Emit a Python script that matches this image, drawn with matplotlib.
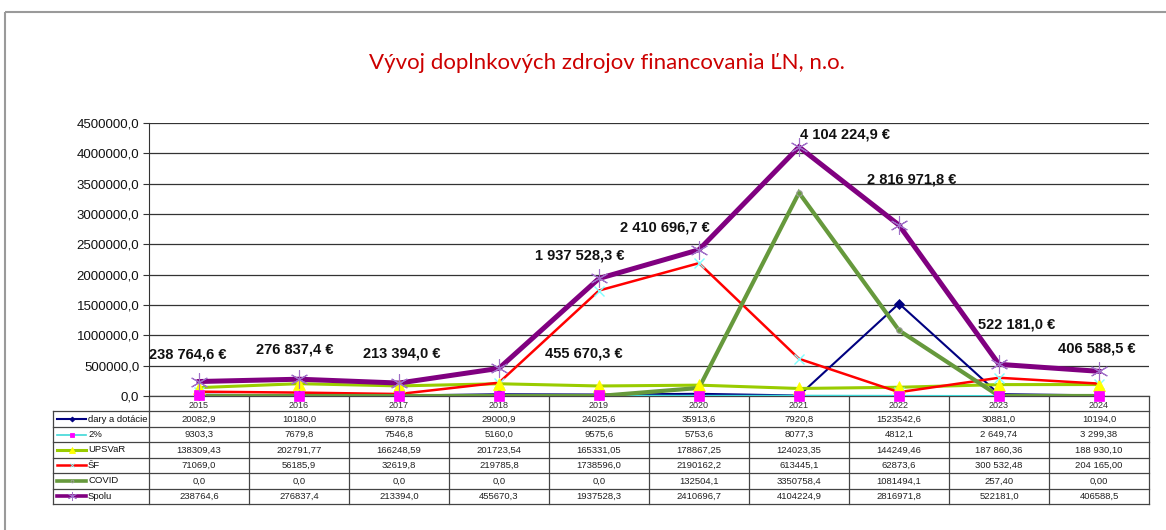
import matplotlib
matplotlib.use("Agg")
import matplotlib.pyplot as plt
from matplotlib.patches import Rectangle

plt.rcParams["font.family"] = ["Liberation Sans", "DejaVu Sans"]

years = ["2015", "2016", "2017", "2018", "2019", "2020", "2021", "2022", "2023", "2024"]

# values as printed in the data table
dary = ["20082,9", "10180,0", "6978,8", "29000,9", "24025,6", "35913,6", "7920,8", "1523542,6", "30881,0", "10194,0"]
dve_percenta = ["9303,3", "7679,8", "7546,8", "5160,0", "9575,6", "5753,6", "8077,3", "4812,1", "2 649,74", "3 299,38"]
upsvar = ["138309,43", "202791,77", "166248,59", "201723,54", "165331,05", "178867,25", "124023,35", "144249,46", "187 860,36", "188 930,10"]
sf = ["71069,0", "56185,9", "32619,8", "219785,8", "1738596,0", "2190162,2", "613445,1", "62873,6", "300 532,48", "204 165,00"]
covid = ["0,0", "0,0", "0,0", "0,0", "0,0", "132504,1", "3350758,4", "1081494,1", "257,40", "0,00"]
spolu = ["238764,6", "276837,4", "213394,0", "455670,3", "1937528,3", "2410696,7", "4104224,9", "2816971,8", "522181,0", "406588,5"]

series_names = ["dary a dotácie", "2%", "UPSVaR", "ŠF", "COVID", "Spolu"]
series_text = [dary, dve_percenta, upsvar, sf, covid, spolu]

# pixel offsets of the Spolu value labels from their points
label_offsets = [(-11, 27), (-4, 30), (3, 30), (85, 15), (-19, 23),
                 (-34, 22), (46, 13), (13, 46), (18, 40), (-2, 23)]

styles = [
    dict(color="#000080", lw=1.5, marker="D", ms=5, mfc="#000080", mec="#000080"),
    dict(color="#40D8D8", lw=1.2, marker="s", ms=7, mfc="#FF00FF", mec="#FF00FF"),
    dict(color="#99CC00", lw=2.2, marker="^", ms=8, mfc="#FFFF00", mec="#FFFF00"),
    dict(color="#FF0000", lw=1.8, marker="x", ms=7, mfc="#80FFFF", mec="#80FFFF", mew=1),
    dict(color="#66993C", lw=3.0, marker="o", ms=4, mfc="#66993C", mec="#A0A0A0", mew=0.8),
    dict(color="#800080", lw=3.6, marker=(6, 2, 0), ms=13, mfc="#A070C8", mec="#A070C8", mew=0.8),
]
marker_z = [11, 13, 12, 11, 11, 14]


def to_num(s):
    return float(s.replace(" ", "").replace(",", "."))


def fmt_eur(v):
    return f"{v:,.1f}".replace(",", " ").replace(".", ",") + " €"


W, H = 1166, 530
fig = plt.figure(figsize=(W / 100, H / 100), dpi=100)
fig.patches.append(Rectangle((5 / W, 1 - 12 / H), 1.0, -1.0, transform=fig.transFigure,
                             fill=False, edgecolor="#9a9a9a", lw=1.5))

x0, x1 = 149, 1149
y_top, y_zero = 123, 396
ax = fig.add_axes([x0 / W, 1 - y_zero / H, (x1 - x0) / W, (y_zero - y_top) / H])
xs = list(range(len(years)))

for k in range(len(series_text)):
    vals = [to_num(s) for s in series_text[k]]
    st = styles[k]
    ax.plot(xs, vals, color=st["color"], lw=st["lw"], zorder=3 + k, solid_joinstyle="miter")
for k in range(len(series_text)):
    vals = [to_num(s) for s in series_text[k]]
    st = styles[k]
    ax.plot(xs, vals, ls="none", marker=st["marker"], ms=st["ms"], mfc=st["mfc"],
            mec=st["mec"], mew=st.get("mew", 0.5), zorder=marker_z[k], clip_on=False)

spolu_vals = [to_num(s) for s in spolu]
for i, v in enumerate(spolu_vals):
    ax.annotate(fmt_eur(v), (i, v), xytext=label_offsets[i], textcoords="offset pixels",
                ha="center", va="center", fontsize=10.5, fontweight="bold", color="#111111",
                zorder=20)

ax.set_xlim(-0.5, len(years) - 0.5)
ax.set_ylim(0, 4500000)
yt = [i * 500000 for i in range(10)]
ax.set_yticks(yt)
ax.set_yticklabels([f"{v:.1f}".replace(".", ",") for v in yt], fontsize=9.5, color="#111111")
ax.set_xticks([])
ax.grid(axis="y", color="#333333", lw=0.9)
ax.set_axisbelow(True)
for s in ["top", "right", "bottom"]:
    ax.spines[s].set_visible(False)
ax.spines["left"].set_color("#333333")
ax.tick_params(axis="y", length=4, color="#333333", pad=3)
ax.patch.set_alpha(0)

fig.text(607 / W, 1 - 63 / H, "Vývoj doplnkových zdrojov financovania ĽN, n.o.",
         ha="center", va="center", fontsize=16, color="#CC0000", family="Lato")

# data table under the chart
t_left, t_bottom = 53, 504
tax = fig.add_axes([t_left / W, 1 - t_bottom / H, (x1 - t_left) / W, (t_bottom - y_zero) / H])
tax.set_zorder(-1)
leg_w = (x0 - t_left) / ((x1 - x0) / len(years))
tax.set_xlim(-0.5 - leg_w, len(years) - 0.5)
tax.set_ylim(7, 0)
tax.axis("off")
lc = "#444444"
for i in range(len(years) + 1):
    tax.plot([i - 0.5, i - 0.5], [0, 7], color=lc, lw=0.9, clip_on=False)
tax.plot([-0.5 - leg_w] * 2, [1, 7], color=lc, lw=0.9, clip_on=False)
tax.plot([-0.5, len(years) - 0.5], [0, 0], color=lc, lw=0.9, clip_on=False)
for r in range(1, 8):
    tax.plot([-0.5 - leg_w, len(years) - 0.5], [r, r], color=lc, lw=0.9, clip_on=False)

for i, yr in enumerate(years):
    tax.text(i, 0.6, yr, ha="center", va="center", fontsize=6.5, color="#333333")

for k, name in enumerate(series_names):
    r = k + 1.5
    st = styles[k]
    kx0 = -0.5 - leg_w + 0.04
    kx1 = kx0 + 0.29
    tax.plot([kx0, kx1], [r, r], color=st["color"], lw=min(st["lw"], 2.6), clip_on=False)
    tax.plot([(kx0 + kx1) / 2], [r], ls="none", marker=st["marker"], ms=st["ms"] * 0.5,
             mfc=st["mfc"], mec=st["mec"], mew=0.6, clip_on=False)
    tax.text(kx1 + 0.02, r, name, ha="left", va="center", fontsize=6.8, color="#111111")
    for i, s in enumerate(series_text[k]):
        tax.text(i, r, s, ha="center", va="center", fontsize=6.8, color="#222222")

fig.savefig("out.png", dpi=100)
